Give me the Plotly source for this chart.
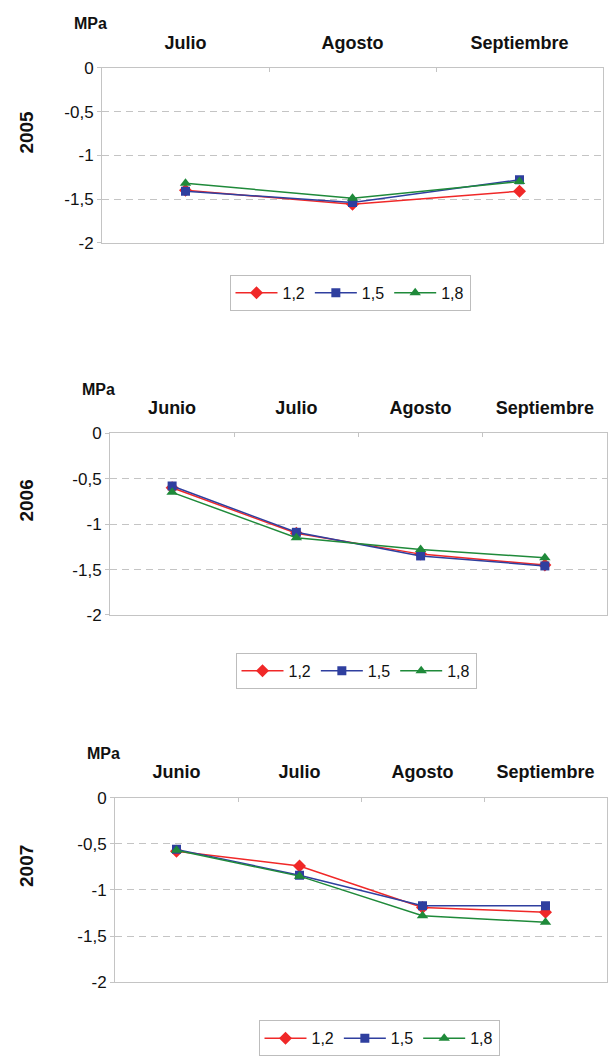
import plotly.graph_objects as go

# Categories per season
months_2005 = ["Julio", "Agosto", "Septiembre"]
months_2006 = ["Junio", "Julio", "Agosto", "Septiembre"]
months_2007 = ["Junio", "Julio", "Agosto", "Septiembre"]

# Water potential (MPa) per treatment
y2005_12 = [-1.40, -1.56, -1.41]
y2005_15 = [-1.41, -1.54, -1.28]
y2005_18 = [-1.32, -1.49, -1.30]

y2006_12 = [-0.60, -1.10, -1.33, -1.45]
y2006_15 = [-0.58, -1.09, -1.35, -1.46]
y2006_18 = [-0.65, -1.15, -1.28, -1.37]

y2007_12 = [-0.58, -0.74, -1.19, -1.24]
y2007_15 = [-0.56, -0.84, -1.17, -1.17]
y2007_18 = [-0.57, -0.85, -1.28, -1.35]

series_names = ["1,2", "1,5", "1,8"]
years = ["2005", "2006", "2007"]
y_tickvals = [0, -0.5, -1, -1.5, -2]
y_ticktext = ["0", "-0,5", "-1", "-1,5", "-2"]

W, H = 608, 1064
FONT = "Liberation Sans, Arial, sans-serif"
colors = ["#f02828", "#2f3f9f", "#1f8a3a"]
symbols = ["diamond", "square", "triangle-up"]
sizes = [10, 9, 10]
GRID = "#c4c4c4"

# pixel boxes of each plotting area: (left, right, top, bottom)
boxes = [(102, 603, 60, 238), (110, 607, 432, 617), (115, 607, 803, 991)]
legend_centres = [(350, 289), (356, 674), (379, 1048)]

panels = [
    (months_2005, [y2005_12, y2005_15, y2005_18]),
    (months_2006, [y2006_12, y2006_15, y2006_18]),
    (months_2007, [y2007_12, y2007_15, y2007_18]),
]

fig = go.Figure()
layout = dict(
    width=W, height=H, margin=dict(l=0, r=0, t=0, b=0),
    paper_bgcolor="white", plot_bgcolor="white", showlegend=True,
    font=dict(family=FONT, color="#111111"),
)
annotations = []

for i, (cats, ys) in enumerate(panels):
    n = i + 1
    sfx = "" if n == 1 else str(n)
    leg = "legend" if n == 1 else f"legend{n}"
    for k, yv in enumerate(ys):
        fig.add_trace(go.Scatter(
            x=cats, y=yv, name=series_names[k], mode="lines+markers",
            line=dict(color=colors[k], width=1.5),
            marker=dict(symbol=symbols[k], size=sizes[k], color=colors[k]),
            xaxis=f"x{sfx}", yaxis=f"y{sfx}", legend=leg,
        ))
    l, r, t, b = boxes[i]
    layout[f"xaxis{sfx}"] = dict(
        domain=[l / W, r / W], anchor=f"y{sfx}", side="top", type="category",
        categoryorder="array", categoryarray=cats,
        range=[-0.5, len(cats) - 0.5],
        showline=True, linecolor=GRID, linewidth=1, mirror=True,
        showgrid=False, zeroline=False, tickson="boundaries",
        ticks="inside", ticklen=4, tickcolor=GRID,
        ticklabelstandoff=11,
        tickfont=dict(family=FONT, size=18, color="#111111", weight="bold"),
        fixedrange=True,
    )
    layout[f"yaxis{sfx}"] = dict(
        domain=[1 - b / H, 1 - t / H], anchor=f"x{sfx}",
        range=[-2, 0], tickvals=y_tickvals, ticktext=y_ticktext,
        showline=True, linecolor=GRID, linewidth=1, mirror=True,
        showgrid=True, gridcolor=GRID, griddash="7px,5px", gridwidth=1,
        zeroline=False, ticks="outside", ticklen=4, tickcolor=GRID,
        tickfont=dict(family=FONT, size=17, color="#111111"),
        fixedrange=True,
    )
    lx, ly = legend_centres[i]
    layout[leg] = dict(
        orientation="h", x=lx / W, y=1 - ly / H, xanchor="center", yanchor="middle",
        xref="paper", yref="paper", itemwidth=42,
        bordercolor="#bdbdbd", borderwidth=1, bgcolor="white",
        font=dict(family=FONT, size=16, color="#111111"),
    )
    # unit label above the value axis
    annotations.append(dict(
        text="<b>MPa</b>", x=(l - 12) / W, y=1 - (t - 45) / H,
        xref="paper", yref="paper", showarrow=False,
        xanchor="center", yanchor="middle",
        font=dict(family=FONT, size=16, color="#111111"),
    ))
    # season label
    annotations.append(dict(
        text=f"<b>{years[i]}</b>", x=27 / W, y=1 - (t + (b - t) * 0.37) / H,
        xref="paper", yref="paper", showarrow=False, textangle=-90,
        xanchor="center", yanchor="middle",
        font=dict(family=FONT, size=19, color="#111111"),
    ))

layout["annotations"] = annotations
fig.update_layout(**layout)
fig.write_html("out.html")
